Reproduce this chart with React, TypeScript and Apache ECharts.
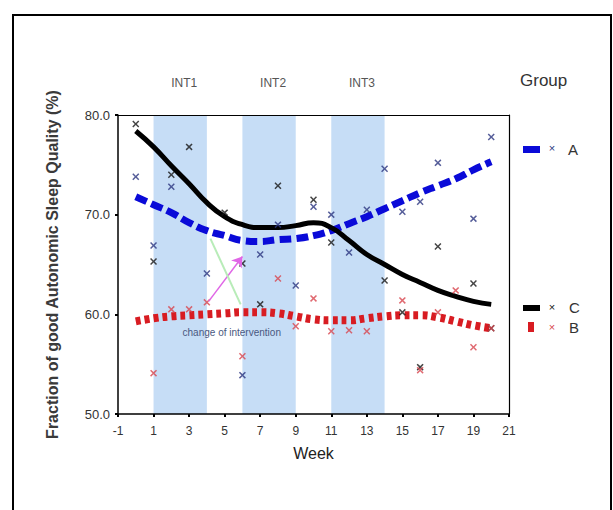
import React, { useEffect, useRef } from "react";
import * as echarts from "echarts";

const weeks = [0, 1, 2, 3, 4, 5, 6, 7, 8, 9, 10, 11, 12, 13, 14, 15, 16, 17, 18, 19, 20];
const lineA = [71.8, 71.0, 70.2, 69.2, 68.4, 67.9, 67.4, 67.3, 67.5, 67.6, 67.9, 68.4, 69.1, 69.8, 70.6, 71.4, 72.2, 72.9, 73.6, 74.5, 75.3];
const lineB = [59.3, 59.6, 59.8, 59.9, 60.0, 60.1, 60.2, 60.2, 60.1, 59.8, 59.5, 59.4, 59.4, 59.6, 59.8, 59.9, 59.9, 59.7, 59.3, 58.9, 58.6];
const lineC = [78.4, 76.8, 74.9, 73.1, 71.2, 69.8, 69.0, 68.7, 68.7, 68.9, 69.2, 68.7, 67.4, 66.0, 65.0, 64.0, 63.2, 62.4, 61.8, 61.3, 61.0];

const pointsA = [[0, 73.8], [1, 66.9], [2, 72.8], [4, 64.1], [6, 53.9], [7, 66.0], [8, 69.0], [9, 62.9], [10, 70.8], [11, 70.0], [12, 66.2], [13, 70.5], [14, 74.6], [15, 70.3], [16, 71.3], [17, 75.2], [19, 69.6], [20, 77.8]];
const pointsC = [[0, 79.1], [1, 65.3], [2, 74.0], [3, 76.8], [5, 70.2], [6, 65.1], [7, 61.0], [8, 72.9], [10, 71.5], [11, 67.2], [14, 63.4], [15, 60.2], [16, 54.7], [17, 66.8], [19, 63.1], [20, 58.6]];
const pointsB = [[1, 54.1], [2, 60.5], [3, 60.5], [4, 61.2], [6, 55.8], [8, 63.6], [9, 58.8], [10, 61.6], [11, 58.3], [12, 58.4], [13, 58.3], [15, 61.4], [16, 54.4], [17, 60.2], [18, 62.4], [19, 56.7], [20, 58.6]];

const intervalNames = ["INT1", "INT2", "INT3"];
const intervalStart = [1, 6, 11];
const intervalEnd = [4, 9, 14];

const arrowMagenta = [[4.1, 61.3], [6.0, 65.8]];
const arrowGreen = [[4.2, 67.6], [5.9, 61.0]];
const noteText = "change of intervention";
const notePos = [5.4, 58.2];

const FONT = "Liberation Sans, Arial, sans-serif";
const CROSS = "path://M0,1.5L1.5,0L5,3.5L8.5,0L10,1.5L6.5,5L10,8.5L8.5,10L5,6.5L1.5,10L0,8.5L3.5,5Z";

const colA = "#0a0ad8";
const colB = "#d81c22";
const colC = "#000000";
const mkA = "#2a357f";
const mkB = "#d8454d";
const mkC = "#151515";

export default function App() {
  const ref = useRef<HTMLDivElement>(null);
  useEffect(() => {
    if (!ref.current) return;
    const chart = echarts.init(ref.current, null, { renderer: "svg" });
    const pair = (arr: number[]) => weeks.map((w, i) => [w, arr[i]]);
    const frameAxis = { show: true, lineStyle: { color: "#000", width: 1.2 }, onZero: false };
    const option: any = {
      animation: false,
      backgroundColor: "#ffffff",
      textStyle: { fontFamily: FONT },
      grid: { left: 118, right: 104, top: 115, bottom: 96 },
      xAxis: [
        {
          type: "value",
          min: -1,
          max: 21,
          interval: 2,
          name: "Week",
          nameLocation: "middle",
          nameGap: 31,
          nameTextStyle: { fontSize: 16, color: "#222", fontFamily: FONT },
          axisLine: { onZero: false, lineStyle: { color: "#000", width: 1.5 } },
          axisTick: { length: 3, lineStyle: { color: "#000", width: 2 } },
          axisLabel: { fontSize: 12, color: "#333", margin: 11, fontFamily: FONT },
          splitLine: { show: false },
          z: 5,
        },
        {
          type: "value",
          position: "top",
          min: -1,
          max: 21,
          axisLine: frameAxis,
          axisTick: { show: false },
          axisLabel: { show: false },
          splitLine: { show: false },
          z: 5,
        },
      ],
      yAxis: [
        {
          type: "value",
          min: 50,
          max: 80,
          interval: 10,
          name: "Fraction of good Autonomic Sleep Quality (%)",
          nameLocation: "middle",
          nameRotate: 90,
          nameGap: 58,
          nameTextStyle: { fontSize: 16, fontWeight: "bold", color: "#3a3a3a", fontFamily: FONT },
          axisLine: { onZero: false, lineStyle: { color: "#000", width: 1.5 } },
          axisTick: { length: 3, lineStyle: { color: "#000", width: 2 } },
          axisLabel: { fontSize: 13, color: "#333", margin: 8, fontFamily: FONT, formatter: (v: number) => v.toFixed(1) },
          splitLine: { show: false },
          z: 5,
        },
        {
          type: "value",
          position: "right",
          min: 50,
          max: 80,
          axisLine: frameAxis,
          axisTick: { show: false },
          axisLabel: { show: false },
          splitLine: { show: false },
          z: 5,
        },
      ],
      series: [
        {
          type: "line",
          name: "bands",
          data: [],
          silent: true,
          z: 1,
          markArea: {
            silent: true,
            itemStyle: { color: "#c6ddf6" },
            label: { show: true, position: "top", distance: 26, fontSize: 12, color: "#555", fontFamily: FONT, offset: [4, 0] },
            data: intervalNames.map((n, i) => [{ name: n, xAxis: intervalStart[i] }, { xAxis: intervalEnd[i] }]),
          },
        },
        {
          type: "line",
          name: "A",
          data: pair(lineA),
          smooth: true,
          showSymbol: false,
          z: 3,
          lineStyle: { color: colA, width: 7, type: [12, 5], cap: "butt" },
        },
        {
          type: "line",
          name: "B",
          data: pair(lineB),
          smooth: true,
          showSymbol: false,
          z: 3,
          lineStyle: { color: colB, width: 8, type: [5, 4], cap: "butt" },
        },
        {
          type: "line",
          name: "C",
          data: pair(lineC),
          smooth: true,
          showSymbol: false,
          z: 3,
          lineStyle: { color: colC, width: 5 },
        },
        {
          type: "scatter",
          name: "A pts",
          data: pointsA,
          symbol: CROSS,
          symbolSize: 7,
          z: 4,
          itemStyle: { color: mkA },
        },
        {
          type: "scatter",
          name: "C pts",
          data: pointsC,
          symbol: CROSS,
          symbolSize: 7,
          z: 4,
          itemStyle: { color: mkC },
        },
        {
          type: "scatter",
          name: "B pts",
          data: pointsB,
          symbol: CROSS,
          symbolSize: 7,
          z: 4,
          itemStyle: { color: mkB },
          markLine: {
            silent: true,
            animation: false,
            label: { show: false },
            data: [
              [
                { coord: arrowMagenta[0], symbol: "none", lineStyle: { color: "#e066e6", width: 1.5, type: "solid" } },
                { coord: arrowMagenta[1], symbol: "arrow", symbolSize: 10 },
              ],
              [
                { coord: arrowGreen[0], symbol: "none", lineStyle: { color: "#b8ecb8", width: 2, type: "solid" } },
                { coord: arrowGreen[1], symbol: "none" },
              ],
            ],
          },
          markPoint: {
            silent: true,
            symbol: "circle",
            symbolSize: 0,
            data: [
              {
                coord: notePos,
                label: { show: true, formatter: noteText, fontSize: 10, color: "#4a5880", fontFamily: FONT, position: "inside" },
              },
            ],
          },
        },
      ],
      graphic: [
        { type: "rect", shape: { x: 13, y: 15, width: 598, height: 520 }, style: { fill: "none", stroke: "#000", lineWidth: 2 }, silent: true, z: 10 },
        { type: "text", x: 520, y: 80, style: { text: "Group", fontSize: 17, fill: "#333", font: `17px ${FONT}`, verticalAlign: "middle" } },
        { type: "rect", shape: { x: 523, y: 146, width: 17, height: 7 }, style: { fill: colA } },
        { type: "text", x: 552, y: 148, style: { text: "×", fontSize: 11, fill: mkA, font: `bold 11px ${FONT}`, align: "center", verticalAlign: "middle" } },
        { type: "text", x: 568, y: 149, style: { text: "A", fontSize: 15, fill: "#333", font: `15px ${FONT}`, verticalAlign: "middle" } },
        { type: "rect", shape: { x: 523, y: 305, width: 17, height: 6 }, style: { fill: colC } },
        { type: "text", x: 552, y: 307, style: { text: "×", fontSize: 11, fill: mkC, font: `bold 11px ${FONT}`, align: "center", verticalAlign: "middle" } },
        { type: "text", x: 569, y: 307, style: { text: "C", fontSize: 15, fill: "#333", font: `15px ${FONT}`, verticalAlign: "middle" } },
        { type: "rect", shape: { x: 528, y: 322, width: 6, height: 10 }, style: { fill: colB } },
        { type: "text", x: 552, y: 327, style: { text: "×", fontSize: 11, fill: mkB, font: `bold 11px ${FONT}`, align: "center", verticalAlign: "middle" } },
        { type: "text", x: 569, y: 327, style: { text: "B", fontSize: 15, fill: "#333", font: `15px ${FONT}`, verticalAlign: "middle" } },
      ],
    };
    chart.setOption(option);
    return () => chart.dispose();
  }, []);
  return <div ref={ref} style={{ position: "fixed", left: 0, top: 0, width: 613, height: 510 }} />;
}
